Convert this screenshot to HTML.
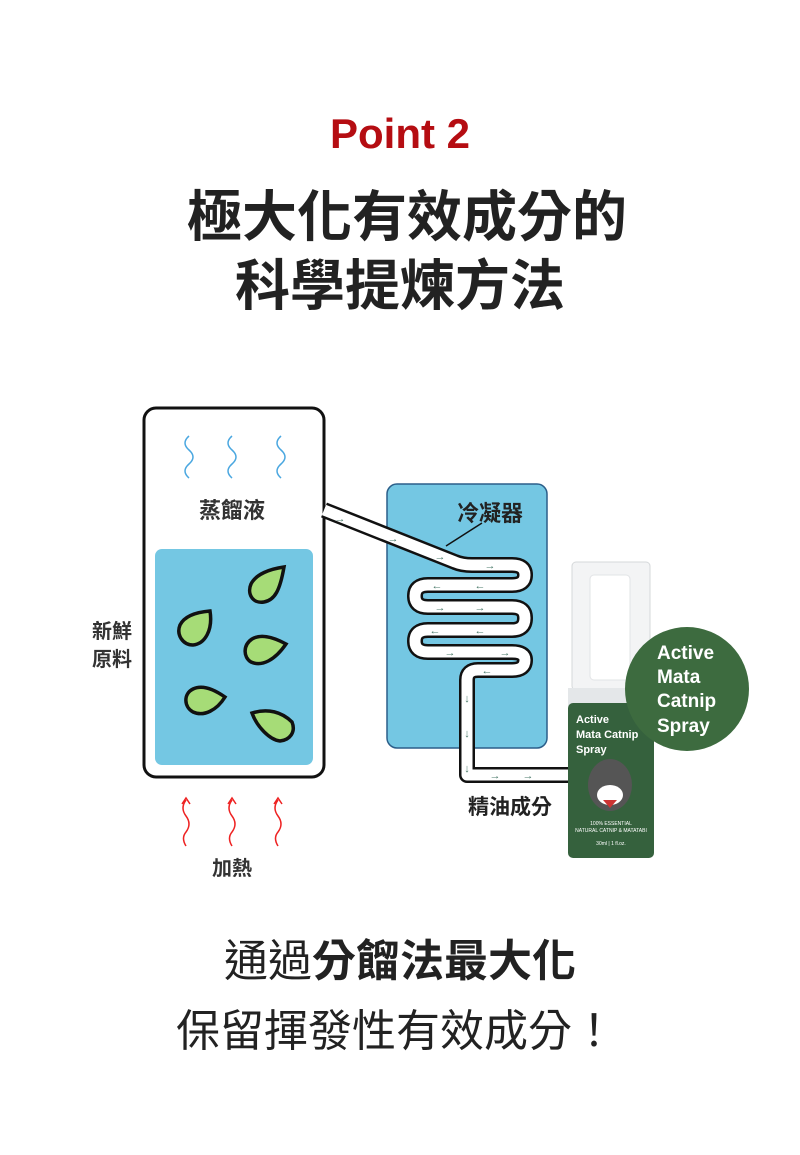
<!DOCTYPE html>
<html><head><meta charset="utf-8"><style>
body{margin:0;background:#fff;}
svg{display:block}
</style></head><body>
<svg width="800" height="1155" viewBox="0 0 800 1155" xmlns="http://www.w3.org/2000/svg" font-family="Liberation Sans, Noto Sans CJK TC, sans-serif">
<text x="400" y="148" text-anchor="middle" font-size="42" font-weight="bold" fill="#b50d12">Point 2</text>
<text x="407" y="236" text-anchor="middle" font-size="55" font-weight="bold" fill="#222">極大化有效成分的</text>
<text x="400" y="305" text-anchor="middle" font-size="55" font-weight="bold" fill="#222">科學提煉方法</text>

<rect x="144" y="408" width="180" height="369" rx="12" fill="#fff" stroke="#111" stroke-width="3"/>
<rect x="155" y="549" width="158" height="216" rx="7" fill="#74c7e3"/>
<g fill="none" stroke="#4aa7e0" stroke-width="1.5">
<path d="M189 436 q-8 7 0 14 q8 7 0 14 q-8 7 0 14"/>
<path d="M232 436 q-8 7 0 14 q8 7 0 14 q-8 7 0 14"/>
<path d="M281 436 q-8 7 0 14 q8 7 0 14 q-8 7 0 14"/>
</g>
<text x="232" y="518" text-anchor="middle" font-size="22" font-weight="bold" fill="#333">蒸餾液</text>
<g fill="#a6dc77" stroke="#111" stroke-width="3.5">
<path d="M284 567 C280 590 275 600 264 602 C252 604 247 593 251 584 C256 574 270 569 284 567Z"/>
<path d="M210 611 C213 630 205 644 193 645 C183 645 176 635 180 625 C185 615 198 612 210 611Z"/>
<path d="M286 644 C275 660 262 667 251 662 C243 657 243 645 252 639 C262 633 275 638 286 644Z"/>
<path d="M225 697 C217 710 204 717 193 712 C184 707 183 694 193 689 C203 684 215 690 225 697Z"/>
<path d="M252 713 C268 708 282 712 292 722 C296 732 290 740 280 741 C270 740 257 727 252 713Z"/>
</g>
<text x="112" y="638" text-anchor="middle" font-size="20" font-weight="bold" fill="#333">新鮮</text>
<text x="112" y="666" text-anchor="middle" font-size="20" font-weight="bold" fill="#333">原料</text>

<rect x="387" y="484" width="160" height="264" rx="10" fill="#74c7e3" stroke="#2c5f8a" stroke-width="1.5"/>
<text x="490" y="521" text-anchor="middle" font-size="22" font-weight="bold" fill="#222">冷凝器</text>
<line x1="482" y1="523" x2="446" y2="546" stroke="#111" stroke-width="1.5"/>
<g fill="none" stroke-linejoin="round" stroke-linecap="butt">
<path d="M324 510 L455 562 Q462 565 472 565 L512 565 Q525 565 525 575 Q525 585 512 585 L428 585 Q415 585 415 596 Q415 607 428 607 L512 607 Q525 607 525 618 Q525 630 512 630 L428 630 Q415 630 415 641 Q415 652 428 652 L512 652 Q525 652 525 660 Q525 670 512 670 L478 670 Q467 670 467 680 L467 775 L570 775" stroke="#111" stroke-width="16"/>
<path d="M324 510 L455 562 Q462 565 472 565 L512 565 Q525 565 525 575 Q525 585 512 585 L428 585 Q415 585 415 596 Q415 607 428 607 L512 607 Q525 607 525 618 Q525 630 512 630 L428 630 Q415 630 415 641 Q415 652 428 652 L512 652 Q525 652 525 660 Q525 670 512 670 L478 670 Q467 670 467 680 L467 775 L570 775" stroke="#fff" stroke-width="11"/>
</g>
<g font-size="11" fill="#4a7a6a" text-anchor="middle">
<text x="340" y="522">→</text><text x="393" y="542">→</text><text x="440" y="560">→</text>
<text x="490" y="569">→</text><text x="480" y="589">←</text><text x="437" y="589">←</text>
<text x="440" y="611">→</text><text x="480" y="611">→</text><text x="480" y="634">←</text><text x="435" y="634">←</text>
<text x="450" y="656">→</text><text x="505" y="656">→</text><text x="487" y="674">←</text>
<text x="467" y="702">↓</text><text x="467" y="737">↓</text><text x="467" y="772">↓</text>
<text x="495" y="779">→</text><text x="528" y="779">→</text>
</g>
<text x="510" y="814" text-anchor="middle" font-size="21" font-weight="bold" fill="#222">精油成分</text>

<g fill="none" stroke="#e22" stroke-width="1.5">
<path d="M186 800 q-6 8 0 16 q6 8 0 16 q-5 6 0 14"/><path d="M182 804 l4 -6 l4 6"/>
<path d="M232 800 q-6 8 0 16 q6 8 0 16 q-5 6 0 14"/><path d="M228 804 l4 -6 l4 6"/>
<path d="M278 800 q-6 8 0 16 q6 8 0 16 q-5 6 0 14"/><path d="M274 804 l4 -6 l4 6"/>
</g>
<text x="232" y="875" text-anchor="middle" font-size="20" font-weight="bold" fill="#333">加熱</text>

<rect x="572" y="562" width="78" height="128" rx="4" fill="#f3f4f5" stroke="#d5d8da"/>
<rect x="590" y="575" width="40" height="105" rx="4" fill="#fff" stroke="#e2e4e6"/>
<rect x="568" y="688" width="86" height="18" fill="#e4e7e9"/>
<rect x="568" y="703" width="86" height="155" rx="5" fill="#35613d"/>
<g fill="#fff" font-size="11" font-weight="bold">
<text x="576" y="723">Active</text><text x="576" y="738">Mata Catnip</text><text x="576" y="753">Spray</text>
</g>
<ellipse cx="610" cy="785" rx="22" ry="26" fill="#555"/>
<ellipse cx="610" cy="795" rx="13" ry="10" fill="#fff"/>
<path d="M603 800 l7 8 l7 -8z" fill="#c33"/>
<g fill="#fff" font-size="5" text-anchor="middle">
<text x="611" y="825">100% ESSENTIAL</text><text x="611" y="832">NATURAL CATNIP &amp; MATATABI</text><text x="611" y="845">30ml | 1 fl.oz.</text>
</g>
<circle cx="687" cy="689" r="62" fill="#3d6b3f"/>
<g fill="#fff" font-size="19" font-weight="bold">
<text x="657" y="659">Active</text><text x="657" y="683">Mata</text><text x="657" y="707">Catnip</text><text x="657" y="732">Spray</text>
</g>

<text x="400" y="976" text-anchor="middle" font-size="44" fill="#222">通過<tspan font-weight="bold">分餾法最大化</tspan></text>
<text x="396" y="1046" text-anchor="middle" font-size="44" fill="#222">保留揮發性有效成分！</text>
</svg>
</body></html>
